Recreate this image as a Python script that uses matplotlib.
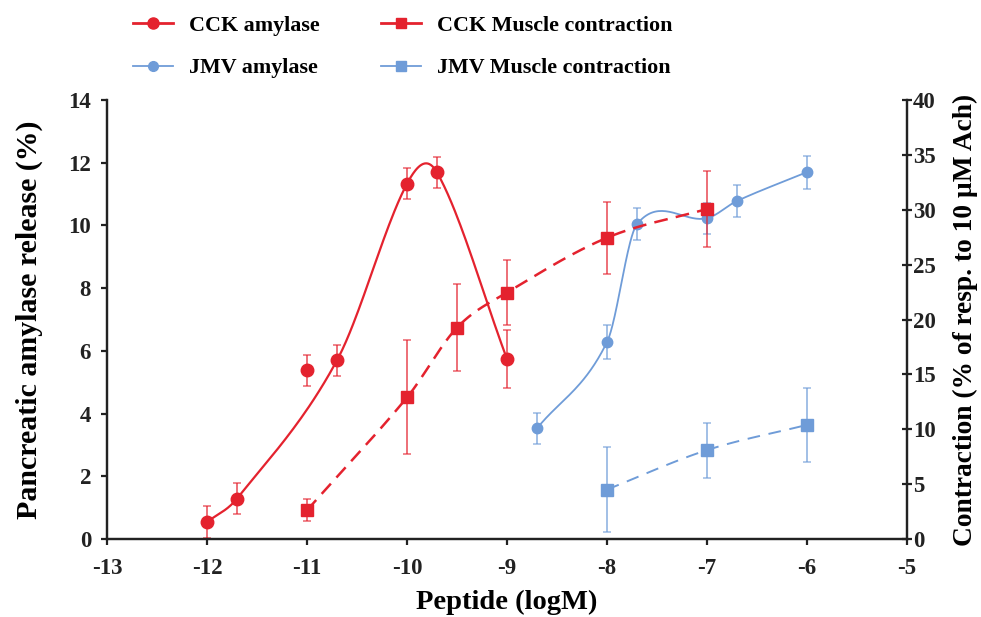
import numpy as np
import matplotlib
matplotlib.use("Agg")
import matplotlib.pyplot as plt
from matplotlib.lines import Line2D

# ---- data ----
cck_amy_x = [-12, -11.7, -11, -10.7, -10, -9.7, -9]
cck_amy_y = [0.54, 1.29, 5.38, 5.7, 11.33, 11.69, 5.74]
cck_amy_e = [0.5, 0.5, 0.5, 0.5, 0.5, 0.5, 0.93]
# points the fitted (smoothed) curve goes through (the -11 point lies off the curve)
cck_amy_curve_idx = [0, 1, 3, 4, 5, 6]

cck_mus_x = [-11, -10, -9.5, -9, -8, -7]
cck_mus_y = [2.62, 12.9, 19.26, 22.46, 27.45, 30.07]
cck_mus_e = [1.0, 5.2, 3.95, 3.0, 3.3, 3.5]

jmv_amy_x = [-8.7, -8, -7.7, -7, -6.7, -6]
jmv_amy_y = [3.53, 6.28, 10.04, 10.23, 10.78, 11.7]
jmv_amy_e = [0.5, 0.53, 0.5, 0.5, 0.5, 0.53]

jmv_mus_x = [-8, -7, -6]
jmv_mus_y = [4.51, 8.1, 10.4]
jmv_mus_e = [3.9, 2.5, 3.35]

xticks = [-13, -12, -11, -10, -9, -8, -7, -6, -5]
yticks_left = [0, 2, 4, 6, 8, 10, 12, 14]
yticks_right = [0, 5, 10, 15, 20, 25, 30, 35, 40]

RED = "#E4222E"
BLUE = "#6F9CD8"

plt.rcParams['font.family'] = ['Liberation Serif', 'DejaVu Serif']
plt.rcParams['font.weight'] = 'bold'


def smooth(x, y, n=40):
    """Cubic Hermite curve through the points, tangents from neighbouring points."""
    x = np.asarray(x, float)
    y = np.asarray(y, float)
    m = np.empty_like(y)
    m[0] = (y[1] - y[0]) / (x[1] - x[0])
    m[-1] = (y[-1] - y[-2]) / (x[-1] - x[-2])
    for i in range(1, len(x) - 1):
        m[i] = (y[i + 1] - y[i - 1]) / (x[i + 1] - x[i - 1])
    xs, ys = [], []
    t = np.linspace(0, 1, n)
    h00 = 2 * t**3 - 3 * t**2 + 1
    h10 = t**3 - 2 * t**2 + t
    h01 = -2 * t**3 + 3 * t**2
    h11 = t**3 - t**2
    for i in range(len(x) - 1):
        h = x[i + 1] - x[i]
        xs.append(x[i] + t * h)
        ys.append(h00 * y[i] + h10 * h * m[i] + h01 * y[i + 1] + h11 * h * m[i + 1])
    return np.concatenate(xs), np.concatenate(ys)


fig = plt.figure(figsize=(9.81, 6.17), dpi=100)
ax = fig.add_axes([107 / 981, 1 - 539 / 617, 800 / 981, 439 / 617])
ax2 = ax.twinx()

ax.set_xlim(-13, -5)
ax.set_ylim(0, 14)
ax2.set_ylim(0, 40)

ekw = dict(capsize=3, elinewidth=1.3, capthick=1.1, ls='none')

# CCK amylase
cx = [cck_amy_x[i] for i in cck_amy_curve_idx]
cy = [cck_amy_y[i] for i in cck_amy_curve_idx]
sx, sy = smooth(cx, cy)
ax.plot(sx, sy, color=RED, lw=1.6, zorder=3)
ax.errorbar(cck_amy_x, cck_amy_y, yerr=cck_amy_e, ecolor=RED, alpha=0.7, **ekw, zorder=2)
ax.plot(cck_amy_x, cck_amy_y, 'o', color=RED, ms=9, zorder=4)

# JMV amylase
sx, sy = smooth(jmv_amy_x, jmv_amy_y)
ax.plot(sx, sy, color=BLUE, lw=1.3, zorder=3)
ax.errorbar(jmv_amy_x, jmv_amy_y, yerr=jmv_amy_e, ecolor=BLUE, alpha=0.7, **ekw, zorder=2)
ax.plot(jmv_amy_x, jmv_amy_y, 'o', color=BLUE, ms=7.5, zorder=4)

# CCK muscle
sx, sy = smooth(cck_mus_x, cck_mus_y)
ax2.plot(sx, sy, color=RED, lw=1.8, ls=(0, (5.5, 3.3)), zorder=3)
ax2.errorbar(cck_mus_x, cck_mus_y, yerr=cck_mus_e, ecolor=RED, alpha=0.7, **ekw, zorder=2)
ax2.plot(cck_mus_x, cck_mus_y, 's', color=RED, ms=8.5, zorder=4)

# JMV muscle
sx, sy = smooth(jmv_mus_x, jmv_mus_y)
ax2.plot(sx, sy, color=BLUE, lw=1.4, ls=(0, (6.5, 4.5)), zorder=3)
ax2.errorbar(jmv_mus_x, jmv_mus_y, yerr=jmv_mus_e, ecolor=BLUE, alpha=0.7, **ekw, zorder=2)
ax2.plot(jmv_mus_x, jmv_mus_y, 's', color=BLUE, ms=8, zorder=4)

for a in (ax, ax2):
    a.spines['top'].set_visible(False)
    for s in a.spines.values():
        s.set_linewidth(1.6)
        s.set_color('#222222')

ax.tick_params(axis='both', width=1.6, length=4.5, labelsize=16.5, colors='#222222')
ax.tick_params(axis='x', pad=9)
ax.tick_params(axis='y', pad=7)
ax2.tick_params(axis='y', width=1.6, length=7, direction='inout', labelsize=16.5,
                colors='#222222', pad=1)

ax.set_xticks(xticks)
ax.set_xticklabels([str(v) for v in xticks], fontweight='bold')
ax.set_yticks(yticks_left)
ax.set_yticklabels([str(v) for v in yticks_left], fontweight='bold')
ax2.set_yticks(yticks_right)
ax2.set_yticklabels([str(v) for v in yticks_right], fontweight='bold')

ax.set_xlabel("Peptide (logM)", fontsize=20.5, fontweight='bold', labelpad=8)
ax.set_ylabel("Pancreatic amylase release (%)", fontsize=21.5, fontweight='bold', labelpad=18)
ax2.set_ylabel("Contraction (% of resp. to 10 µM Ach)", fontsize=19.7, fontweight='bold',
               labelpad=12)

handles = [
    Line2D([], [], color=RED, lw=2, marker='o', ms=8),
    Line2D([], [], color=BLUE, lw=1.3, marker='o', ms=7),
    Line2D([], [], color=RED, lw=2, marker='s', ms=7),
    Line2D([], [], color=BLUE, lw=1.3, marker='s', ms=7),
]
labels = ["CCK amylase", "JMV amylase", "CCK Muscle contraction", "JMV Muscle contraction"]
fig.legend(handles, labels, ncol=2, loc='upper left', bbox_to_anchor=(115 / 981, 1 + 2 / 617),
           frameon=False, fontsize=15.8, handlelength=1.85, labelspacing=1.0,
           columnspacing=2.8, handletextpad=0.7, borderpad=0.3)

fig.savefig("out.png", dpi=100)
